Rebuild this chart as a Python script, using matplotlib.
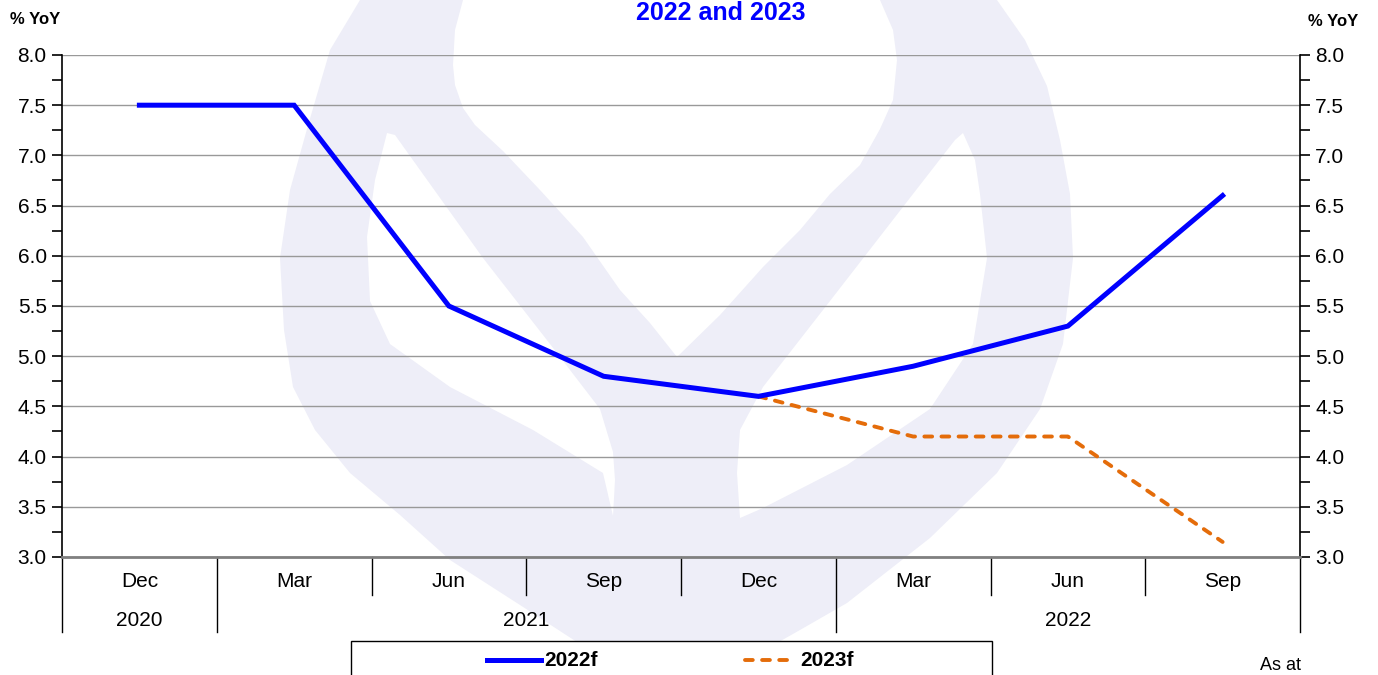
import matplotlib
matplotlib.use("Agg")
import matplotlib.pyplot as plt
from matplotlib.patches import Polygon, Rectangle
from matplotlib.lines import Line2D
from matplotlib.ticker import MultipleLocator
import matplotlib.transforms as mtransforms

plt.rcParams['font.family'] = ['Liberation Sans', 'DejaVu Sans']

# data
months = ["Dec", "Mar", "Jun", "Sep", "Dec", "Mar", "Jun", "Sep"]
years = ["2020", "2021", "2022"]
year_spans = [(0, 0), (1, 4), (5, 7)]
f2022 = [7.5, 7.5, 5.5, 4.8, 4.6, 4.9, 5.3, 6.6]
f2023 = [None, None, None, None, 4.6, 4.2, 4.2, 3.15]

W, H = 1378, 675
fig = plt.figure(figsize=(W / 100, H / 100), dpi=100)


def px(pts):
    return [(x / W, 1 - y / H) for x, y in pts]


# faint watermark logo behind the chart
lav = '#EEEEF8'
outer = [(360, 0), (330, 50), (307, 129), (290, 190), (280, 258), (284, 330), (293, 387),
         (315, 430), (350, 473), (400, 515), (450, 560), (520, 605), (583, 646), (640, 665),
         (680, 668), (720, 668), (747, 660), (800, 630), (847, 603), (930, 538), (997, 473),
         (1040, 409), (1063, 344), (1073, 258), (1070, 194), (1060, 140), (1047, 86),
         (1025, 40), (997, 0), (880, 0), (893, 30), (897, 60), (893, 100), (880, 129),
         (860, 165), (830, 194), (800, 230), (763, 267), (720, 315), (677, 357), (650, 323),
         (620, 290), (583, 237), (540, 190), (503, 151), (475, 125), (463, 108), (455, 85),
         (453, 65), (455, 30), (463, 0)]
leaf_l = [(387, 133), (375, 180), (367, 237), (370, 301), (390, 344), (450, 387), (533, 430),
          (603, 473), (613, 516), (615, 480), (613, 452), (600, 409), (550, 344), (483, 258),
          (420, 170), (395, 135)]
leaf_r = [(963, 133), (975, 160), (980, 194), (987, 258), (973, 344), (930, 409), (847, 465),
          (763, 508), (740, 518), (737, 473), (740, 430), (763, 387), (830, 301), (913, 194),
          (955, 140)]
fig.add_artist(Polygon(px(outer), closed=True, facecolor=lav, edgecolor='none', zorder=0))
for leaf in (leaf_l, leaf_r):
    fig.add_artist(Polygon(px(leaf), closed=True, facecolor='white', edgecolor='none', zorder=0))

ax = fig.add_axes([62 / W, 1 - 557 / H, (1300 - 62) / W, (557 - 55) / H])
ax.set_facecolor('none')
ax.set_zorder(1)

x = list(range(len(months)))
ax.plot(x, f2022, color='#0000FF', lw=3.6, solid_joinstyle='miter', label='2022f', zorder=4)
x23 = [i for i, v in zip(x, f2023) if v is not None]
y23 = [v for v in f2023 if v is not None]
ax.plot(x23, y23, color='#E46C0A', lw=2.8, dashes=(2.0, 2.4), dash_capstyle='round',
        label='2023f', zorder=3)

ax.set_xlim(-0.5, len(months) - 0.5)
ax.set_ylim(3.0, 8.0)
ax.yaxis.set_major_locator(MultipleLocator(0.5))
ax.yaxis.set_minor_locator(MultipleLocator(0.25))
ax.yaxis.set_major_formatter(matplotlib.ticker.FormatStrFormatter('%.1f'))
ax.grid(axis='y', which='major', color='#999999', lw=1.0)
ax.set_axisbelow(True)
ax.tick_params(axis='y', which='both', direction='out', length=7, width=1.2,
               left=True, right=True, labelleft=True, labelright=True,
               labelsize=15, pad=4, color='black')
for s in ('left', 'right'):
    ax.spines[s].set_color('black')
    ax.spines[s].set_linewidth(1.2)
ax.spines['top'].set_visible(False)
ax.spines['bottom'].set_color('#808080')
ax.spines['bottom'].set_linewidth(2)

ax.set_xticks(x)
ax.set_xticklabels(months, fontsize=15)
ax.tick_params(axis='x', length=0, pad=11)

# category separators below the axis
trans = mtransforms.blended_transform_factory(ax.transData, ax.transAxes)
short_y = -(595 - 557) / (557 - 55)
long_y = -(632 - 557) / (557 - 55)
year_edges = set()
for a, b in year_spans:
    year_edges.add(a - 0.5)
    year_edges.add(b + 0.5)
for k in range(len(months) + 1):
    edge = k - 0.5
    yb = long_y if edge in year_edges else short_y
    ax.plot([edge, edge], [0, yb], color='black', lw=1.0, transform=trans, clip_on=False)
for name, (a, b) in zip(years, year_spans):
    ax.text((a + b) / 2, -(620 - 557) / (557 - 55), name, transform=trans,
            ha='center', va='center', fontsize=15)

# axis unit labels and title
fig.text(10 / W, 1 - 19 / H, '% YoY', fontsize=12, fontweight='bold', ha='left', va='center')
fig.text(1358 / W, 1 - 21 / H, '% YoY', fontsize=12, fontweight='bold', ha='right', va='center')
fig.text(721 / W, 1 - 13 / H, '2022 and 2023', fontsize=18, fontweight='bold',
         color='#0000FF', ha='center', va='center')

# legend box (runs off the bottom edge)
fig.add_artist(Rectangle((351 / W, -0.05), (992 - 351) / W, 0.05 + 1 - 641 / H,
                         transform=fig.transFigure, facecolor='white', edgecolor='black',
                         lw=1.0, zorder=2))
ly = 1 - 660 / H
fig.add_artist(Line2D([487 / W, 541 / W], [ly, ly], color='#0000FF', lw=3.6, zorder=3))
fig.text(544 / W, ly, '2022f', fontsize=15, fontweight='bold', ha='left', va='center', zorder=3)
fig.add_artist(Line2D([745 / W, 796 / W], [ly, ly], color='#E46C0A', lw=2.8,
                      dashes=(2.0, 2.4), dash_capstyle='round', zorder=3))
fig.text(800 / W, ly, '2023f', fontsize=15, fontweight='bold', ha='left', va='center', zorder=3)

fig.text(1280 / W, 1 - 665 / H, 'As at', fontsize=13, ha='center', va='center')

fig.savefig('out.png', dpi=100)
